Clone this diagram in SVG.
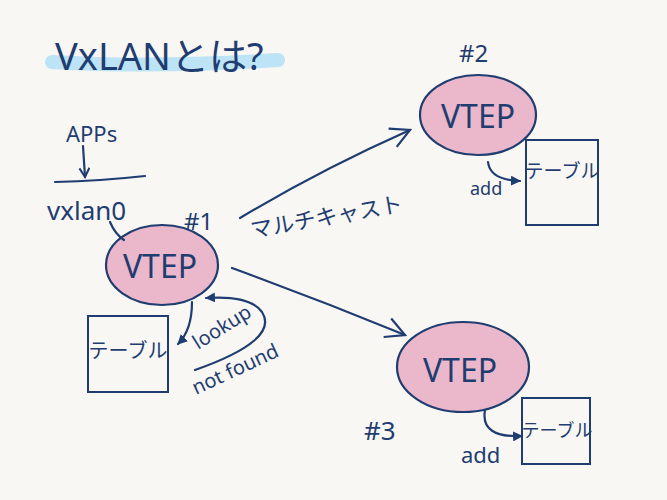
<svg xmlns="http://www.w3.org/2000/svg" width="667" height="500" viewBox="0 0 667 500">
<style>
.t{font-family:"Noto Sans","Noto Sans CJK JP",sans-serif;fill:#1f3d70;}
.ln{fill:none;stroke:#1f3d70;stroke-width:2.2;stroke-linecap:round;stroke-linejoin:round;}
.el{fill:#ebb8cb;stroke:#1f3d70;stroke-width:2.2;}
.box{fill:none;stroke:#1f3d70;stroke-width:2;}
</style>
<defs>
<marker id="open" viewBox="0 0 12 12" refX="10" refY="6" markerWidth="12" markerHeight="12" markerUnits="userSpaceOnUse" orient="auto">
<path d="M1,1 L10,6 L1,11" fill="none" stroke="#1f3d70" stroke-width="2"/>
</marker>
<marker id="big" viewBox="0 0 24 24" refX="21" refY="12" markerWidth="24" markerHeight="24" markerUnits="userSpaceOnUse" orient="auto">
<path d="M2,2 L21,12 L2,22" fill="none" stroke="#1f3d70" stroke-width="2.2"/>
</marker>
<marker id="solid" viewBox="0 0 10 10" refX="9" refY="5" markerWidth="10" markerHeight="10" markerUnits="userSpaceOnUse" orient="auto">
<path d="M0,0 L10,5 L0,10 Z" fill="#1f3d70"/>
</marker>
</defs>
<rect width="667" height="500" fill="#f8f7f4"/>
<g id="title">
<path d="M52,62 Q150,68 278,60" fill="none" stroke="#bde3f6" stroke-width="14" stroke-linecap="round"/>
<text class="t" x="55" y="70" font-size="38">VxLANとは?</text>
</g>
<g id="apps">
<text class="t" x="66" y="142" font-size="22">APPs</text>
<path class="ln" d="M55,182 Q100,181 145,176"/>
</g>
<g id="vxlan0">
<text class="t" x="47" y="220" font-size="26">vxlan0</text>
</g>
<g id="vtep1">
<ellipse class="el" cx="162" cy="265" rx="56" ry="40"/>
<text class="t" x="160" y="278" font-size="32" text-anchor="middle">VTEP</text>
<text class="t" x="184" y="230" font-size="24">#1</text>
</g>
<g id="table1">
<rect class="box" x="88" y="316" width="80" height="76"/>
<text class="t" x="128" y="358" font-size="20" text-anchor="middle">テーブル</text>
</g>
<g id="vtep2">
<ellipse class="el" cx="478" cy="115" rx="58" ry="40"/>
<text class="t" x="478" y="128" font-size="32" text-anchor="middle">VTEP</text>
<text class="t" x="459" y="62" font-size="24">#2</text>
</g>
<g id="table2">
<rect class="box" x="526" y="140" width="72" height="85"/>
<text class="t" x="562" y="178" font-size="19" text-anchor="middle">テーブル</text>
</g>
<g id="vtep3">
<ellipse class="el" cx="463" cy="367" rx="66" ry="45"/>
<text class="t" x="460" y="382" font-size="32" text-anchor="middle">VTEP</text>
<text class="t" x="364" y="440" font-size="26">#3</text>
</g>
<g id="table3">
<rect class="box" x="522" y="398" width="68" height="66"/>
<text class="t" x="557" y="437" font-size="18" text-anchor="middle">テーブル</text>
</g>
<g id="connectors">
<path class="ln" d="M83,146 L85,177" marker-end="url(#open)"/>
<path class="ln" d="M110,222 Q115,234 124,240"/>
<path class="ln" d="M240,218 Q320,170 410,130" marker-end="url(#big)"/>
<path class="ln" d="M232,268 Q320,300 405,335" marker-end="url(#big)"/>
<path class="ln" d="M192,302 Q192,330 178,344" marker-end="url(#solid)"/>
<path class="ln" d="M195,370 Q280,340 262,312 Q250,295 206,298" marker-end="url(#solid)"/>
<path class="ln" d="M488,162 Q490,180 520,181" marker-end="url(#solid)"/>
<path class="ln" d="M485,410 Q480,438 522,436" marker-end="url(#solid)"/>
</g>
<g id="labels">
<text class="t" x="252" y="238" font-size="22" transform="rotate(-10 252 238)">マルチキャスト</text>
<text class="t" x="198" y="350" font-size="20" transform="rotate(-32 198 350)">lookup</text>
<text class="t" x="196" y="395" font-size="20" transform="rotate(-25 196 395)">not found</text>
<text class="t" x="470" y="195" font-size="18">add</text>
<text class="t" x="461" y="463" font-size="22">add</text>
</g>
</svg>
